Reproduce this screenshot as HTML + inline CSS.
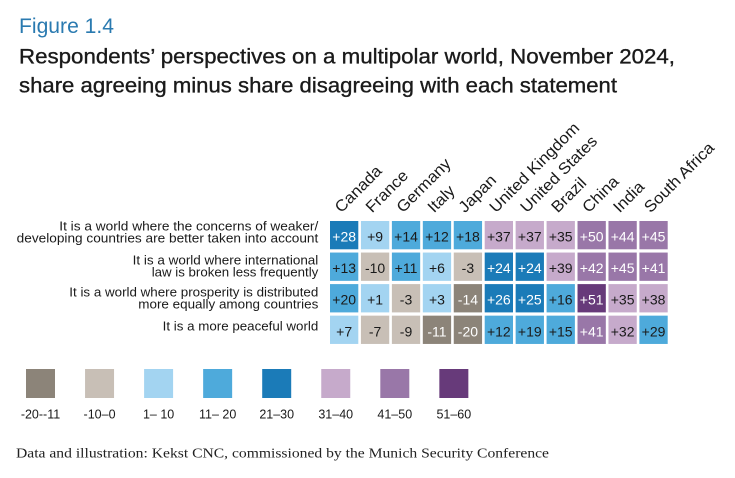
<!DOCTYPE html>
<html><head><meta charset="utf-8"><style>
html,body{margin:0;padding:0;background:#fff;}
svg{display:block;}
text{font-family:"Liberation Sans",Arial,sans-serif;}
</style></head><body>
<svg width="735" height="478" viewBox="0 0 735 478" xmlns="http://www.w3.org/2000/svg">
<rect width="735" height="478" fill="#fff"/>
<text x="19" y="33" font-size="21" fill="#2a7ab0" textLength="95" lengthAdjust="spacingAndGlyphs">Figure 1.4</text>
<text x="19" y="63.5" font-size="21" fill="#1a1a1a" stroke="#1a1a1a" stroke-width="0.35" textLength="656" lengthAdjust="spacingAndGlyphs">Respondents’ perspectives on a multipolar world, November 2024,</text>
<text x="19" y="92.5" font-size="21" fill="#1a1a1a" stroke="#1a1a1a" stroke-width="0.35" textLength="598" lengthAdjust="spacingAndGlyphs">share agreeing minus share disagreeing with each statement</text>

<g font-size="16" fill="#1a1a1a">
<text transform="translate(341.2,213.5) rotate(-45)" textLength="58.8" lengthAdjust="spacingAndGlyphs">Canada</text>
<text transform="translate(372.1,213.5) rotate(-45)" textLength="52.3" lengthAdjust="spacingAndGlyphs">France</text>
<text transform="translate(403,213.5) rotate(-45)" textLength="69.1" lengthAdjust="spacingAndGlyphs">Germany</text>
<text transform="translate(434,213.5) rotate(-45)" textLength="30.8" lengthAdjust="spacingAndGlyphs">Italy</text>
<text transform="translate(464.9,213.5) rotate(-45)" textLength="45.8" lengthAdjust="spacingAndGlyphs">Japan</text>
<text transform="translate(495.9,213.5) rotate(-45)" textLength="119.5" lengthAdjust="spacingAndGlyphs">United Kingdom</text>
<text transform="translate(526.8,213.5) rotate(-45)" textLength="100.9" lengthAdjust="spacingAndGlyphs">United States</text>
<text transform="translate(557.7,213.5) rotate(-45)" textLength="42" lengthAdjust="spacingAndGlyphs">Brazil</text>
<text transform="translate(588.7,213.5) rotate(-45)" textLength="43.9" lengthAdjust="spacingAndGlyphs">China</text>
<text transform="translate(619.6,213.5) rotate(-45)" textLength="36.4" lengthAdjust="spacingAndGlyphs">India</text>
<text transform="translate(650.5,213.5) rotate(-45)" textLength="91.5" lengthAdjust="spacingAndGlyphs">South Africa</text>
</g>

<g font-size="13.3" fill="#1a1a1a" text-anchor="end">
<text x="318.3" y="230.5" textLength="259" lengthAdjust="spacingAndGlyphs">It is a world where the concerns of weaker/</text>
<text x="318.3" y="242.5" textLength="301.6" lengthAdjust="spacingAndGlyphs">developing countries are better taken into account</text>
<text x="318.3" y="264.5" textLength="185.6" lengthAdjust="spacingAndGlyphs">It is a world where international</text>
<text x="318.3" y="276.3" textLength="166.6" lengthAdjust="spacingAndGlyphs">law is broken less frequently</text>
<text x="318.3" y="296.3" textLength="249" lengthAdjust="spacingAndGlyphs">It is a world where prosperity is distributed</text>
<text x="318.3" y="308.7" textLength="180" lengthAdjust="spacingAndGlyphs">more equally among countries</text>
<text x="318.3" y="330.7" textLength="155.6" lengthAdjust="spacingAndGlyphs">It is a more peaceful world</text>
</g>

<g id="cells" font-size="14" text-anchor="middle">
<!-- Row 1 -->
<rect x="330" y="221" width="28.3" height="28.3" fill="#1b7bb8"/><text x="344.15" y="241.6" fill="#fff">+28</text>
<rect x="360.94" y="221" width="28.3" height="28.3" fill="#a3d4f1"/><text x="375.09" y="241.6" fill="#1a1a1a">+9</text>
<rect x="391.88" y="221" width="28.3" height="28.3" fill="#4eaadb"/><text x="406.03" y="241.6" fill="#1a1a1a">+14</text>
<rect x="422.82" y="221" width="28.3" height="28.3" fill="#4eaadb"/><text x="436.97" y="241.6" fill="#1a1a1a">+12</text>
<rect x="453.76" y="221" width="28.3" height="28.3" fill="#4eaadb"/><text x="467.91" y="241.6" fill="#1a1a1a">+18</text>
<rect x="484.7" y="221" width="28.3" height="28.3" fill="#c6aacb"/><text x="498.85" y="241.6" fill="#1a1a1a">+37</text>
<rect x="515.64" y="221" width="28.3" height="28.3" fill="#c6aacb"/><text x="529.79" y="241.6" fill="#1a1a1a">+37</text>
<rect x="546.58" y="221" width="28.3" height="28.3" fill="#c6aacb"/><text x="560.73" y="241.6" fill="#1a1a1a">+35</text>
<rect x="577.52" y="221" width="28.3" height="28.3" fill="#9977a8"/><text x="591.67" y="241.6" fill="#fff">+50</text>
<rect x="608.46" y="221" width="28.3" height="28.3" fill="#9977a8"/><text x="622.61" y="241.6" fill="#fff">+44</text>
<rect x="639.4" y="221" width="28.3" height="28.3" fill="#9977a8"/><text x="653.55" y="241.6" fill="#fff">+45</text>
<!-- Row 2 -->
<rect x="330" y="252.55" width="28.3" height="28.3" fill="#4eaadb"/><text x="344.15" y="273.15" fill="#1a1a1a">+13</text>
<rect x="360.94" y="252.55" width="28.3" height="28.3" fill="#c8bfb6"/><text x="375.09" y="273.15" fill="#1a1a1a">-10</text>
<rect x="391.88" y="252.55" width="28.3" height="28.3" fill="#4eaadb"/><text x="406.03" y="273.15" fill="#1a1a1a">+11</text>
<rect x="422.82" y="252.55" width="28.3" height="28.3" fill="#a3d4f1"/><text x="436.97" y="273.15" fill="#1a1a1a">+6</text>
<rect x="453.76" y="252.55" width="28.3" height="28.3" fill="#c8bfb6"/><text x="467.91" y="273.15" fill="#1a1a1a">-3</text>
<rect x="484.7" y="252.55" width="28.3" height="28.3" fill="#1b7bb8"/><text x="498.85" y="273.15" fill="#fff">+24</text>
<rect x="515.64" y="252.55" width="28.3" height="28.3" fill="#1b7bb8"/><text x="529.79" y="273.15" fill="#fff">+24</text>
<rect x="546.58" y="252.55" width="28.3" height="28.3" fill="#c6aacb"/><text x="560.73" y="273.15" fill="#1a1a1a">+39</text>
<rect x="577.52" y="252.55" width="28.3" height="28.3" fill="#9977a8"/><text x="591.67" y="273.15" fill="#fff">+42</text>
<rect x="608.46" y="252.55" width="28.3" height="28.3" fill="#9977a8"/><text x="622.61" y="273.15" fill="#fff">+45</text>
<rect x="639.4" y="252.55" width="28.3" height="28.3" fill="#9977a8"/><text x="653.55" y="273.15" fill="#fff">+41</text>
<!-- Row 3 -->
<rect x="330" y="284.1" width="28.3" height="28.3" fill="#4eaadb"/><text x="344.15" y="304.7" fill="#1a1a1a">+20</text>
<rect x="360.94" y="284.1" width="28.3" height="28.3" fill="#a3d4f1"/><text x="375.09" y="304.7" fill="#1a1a1a">+1</text>
<rect x="391.88" y="284.1" width="28.3" height="28.3" fill="#c8bfb6"/><text x="406.03" y="304.7" fill="#1a1a1a">-3</text>
<rect x="422.82" y="284.1" width="28.3" height="28.3" fill="#a3d4f1"/><text x="436.97" y="304.7" fill="#1a1a1a">+3</text>
<rect x="453.76" y="284.1" width="28.3" height="28.3" fill="#8c8479"/><text x="467.91" y="304.7" fill="#fff">-14</text>
<rect x="484.7" y="284.1" width="28.3" height="28.3" fill="#1b7bb8"/><text x="498.85" y="304.7" fill="#fff">+26</text>
<rect x="515.64" y="284.1" width="28.3" height="28.3" fill="#1b7bb8"/><text x="529.79" y="304.7" fill="#fff">+25</text>
<rect x="546.58" y="284.1" width="28.3" height="28.3" fill="#4eaadb"/><text x="560.73" y="304.7" fill="#1a1a1a">+16</text>
<rect x="577.52" y="284.1" width="28.3" height="28.3" fill="#673a7a"/><text x="591.67" y="304.7" fill="#fff">+51</text>
<rect x="608.46" y="284.1" width="28.3" height="28.3" fill="#c6aacb"/><text x="622.61" y="304.7" fill="#1a1a1a">+35</text>
<rect x="639.4" y="284.1" width="28.3" height="28.3" fill="#c6aacb"/><text x="653.55" y="304.7" fill="#1a1a1a">+38</text>
<!-- Row 4 -->
<rect x="330" y="315.65" width="28.3" height="28.3" fill="#a3d4f1"/><text x="344.15" y="336.25" fill="#1a1a1a">+7</text>
<rect x="360.94" y="315.65" width="28.3" height="28.3" fill="#c8bfb6"/><text x="375.09" y="336.25" fill="#1a1a1a">-7</text>
<rect x="391.88" y="315.65" width="28.3" height="28.3" fill="#c8bfb6"/><text x="406.03" y="336.25" fill="#1a1a1a">-9</text>
<rect x="422.82" y="315.65" width="28.3" height="28.3" fill="#8c8479"/><text x="436.97" y="336.25" fill="#fff">-11</text>
<rect x="453.76" y="315.65" width="28.3" height="28.3" fill="#8c8479"/><text x="467.91" y="336.25" fill="#fff">-20</text>
<rect x="484.7" y="315.65" width="28.3" height="28.3" fill="#4eaadb"/><text x="498.85" y="336.25" fill="#1a1a1a">+12</text>
<rect x="515.64" y="315.65" width="28.3" height="28.3" fill="#4eaadb"/><text x="529.79" y="336.25" fill="#1a1a1a">+19</text>
<rect x="546.58" y="315.65" width="28.3" height="28.3" fill="#4eaadb"/><text x="560.73" y="336.25" fill="#1a1a1a">+15</text>
<rect x="577.52" y="315.65" width="28.3" height="28.3" fill="#9977a8"/><text x="591.67" y="336.25" fill="#fff">+41</text>
<rect x="608.46" y="315.65" width="28.3" height="28.3" fill="#c6aacb"/><text x="622.61" y="336.25" fill="#1a1a1a">+32</text>
<rect x="639.4" y="315.65" width="28.3" height="28.3" fill="#4eaadb"/><text x="653.55" y="336.25" fill="#1a1a1a">+29</text>
</g>

<g font-size="12.5" fill="#1a1a1a" text-anchor="middle">
<rect x="26" y="369" width="29" height="29" fill="#8c8479"/><text x="40.5" y="418.3">-20--11</text>
<rect x="85.05" y="369" width="29" height="29" fill="#c8bfb6"/><text x="99.55" y="418.3">-10–0</text>
<rect x="144.1" y="369" width="29" height="29" fill="#a3d4f1"/><text x="158.6" y="418.3">1– 10</text>
<rect x="203.15" y="369" width="29" height="29" fill="#4eaadb"/><text x="217.65" y="418.3">11– 20</text>
<rect x="262.2" y="369" width="29" height="29" fill="#1b7bb8"/><text x="276.7" y="418.3">21–30</text>
<rect x="321.25" y="369" width="29" height="29" fill="#c6aacb"/><text x="335.75" y="418.3">31–40</text>
<rect x="380.3" y="369" width="29" height="29" fill="#9977a8"/><text x="394.8" y="418.3">41–50</text>
<rect x="439.35" y="369" width="29" height="29" fill="#673a7a"/><text x="453.85" y="418.3">51–60</text>
</g>

<text x="16" y="457.5" style="font-family:'Liberation Serif',serif" font-size="13.5" fill="#222" textLength="533" lengthAdjust="spacingAndGlyphs">Data and illustration: Kekst CNC, commissioned by the Munich Security Conference</text>
</svg>
</body></html>
